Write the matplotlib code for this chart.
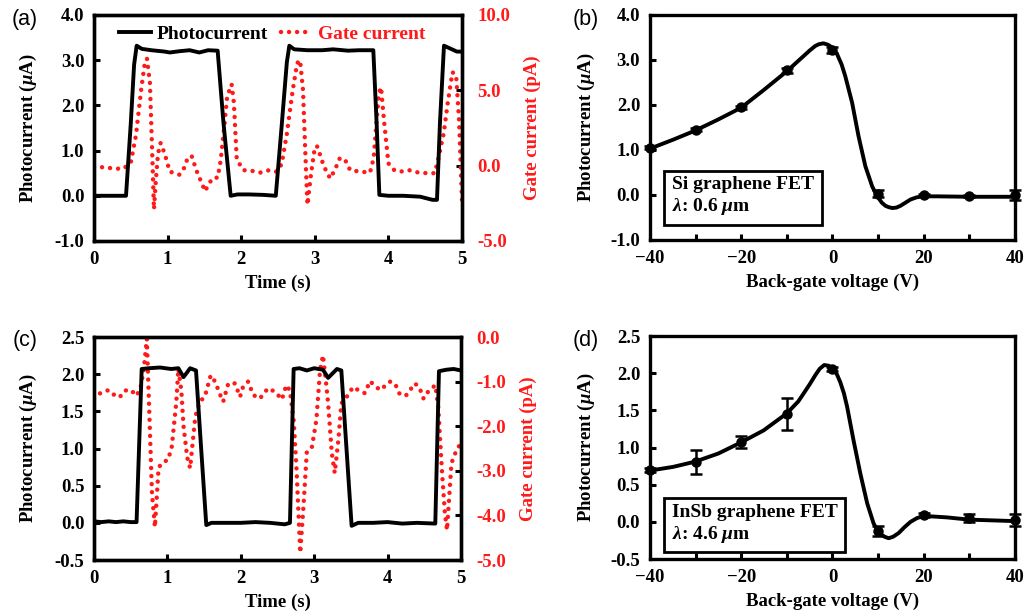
import matplotlib
matplotlib.use('Agg')
import matplotlib.pyplot as plt
import numpy as np
from matplotlib.lines import Line2D

plt.rcParams['font.family'] = ['Liberation Serif', 'DejaVu Serif']
plt.rcParams['font.weight'] = 'bold'
plt.rcParams['mathtext.fontset'] = 'custom'
plt.rcParams['mathtext.rm'] = 'Liberation Serif:bold'
plt.rcParams['mathtext.it'] = 'Liberation Serif:italic:bold'
plt.rcParams['mathtext.bf'] = 'Liberation Serif:bold'

# (a) photocurrent vs time, Si device
ta_pc = [0.0, 0.435, 0.50, 0.545, 0.58, 0.65, 0.78, 0.96, 1.03, 1.17, 1.30, 1.43, 1.55, 1.68, 1.76, 1.857, 1.95, 2.1, 2.3, 2.47,
         2.55, 2.62, 2.654, 2.72, 2.9, 3.1, 3.25, 3.45, 3.6, 3.795, 3.84, 3.877, 4.0, 4.2, 4.43, 4.6, 4.66, 4.70, 4.755, 4.85, 4.93, 5.0]
ia_pc = [0.0, 0.0, 1.6, 2.9, 3.32, 3.25, 3.22, 3.19, 3.17, 3.20, 3.22, 3.17, 3.22, 3.21, 1.6, 0.0, 0.03, 0.03, 0.02, 0.0,
         1.55, 2.95, 3.32, 3.24, 3.22, 3.22, 3.24, 3.21, 3.22, 3.22, 1.6, 0.02, 0.0, 0.0, -0.02, -0.09, -0.09, 1.6, 3.32, 3.25, 3.19, 3.19]
ta_gc = [0.0, 0.1, 0.2, 0.3, 0.40, 0.50, 0.57, 0.64, 0.69, 0.72, 0.76, 0.79, 0.815, 0.84, 0.87, 0.905, 0.96, 1.03, 1.10, 1.16, 1.22,
         1.28, 1.33, 1.39, 1.45, 1.51, 1.56, 1.62, 1.68, 1.72, 1.76, 1.81, 1.87, 1.90, 1.94, 2.03, 2.15, 2.26, 2.38, 2.48, 2.55,
         2.62, 2.70, 2.76, 2.80, 2.84, 2.87, 2.90, 2.95, 3.00, 3.03, 3.08, 3.12, 3.17, 3.21, 3.28, 3.34, 3.41, 3.48, 3.62, 3.75,
         3.80, 3.84, 3.87, 3.90, 3.94, 4.00, 4.08, 4.16, 4.28, 4.40, 4.52, 4.63, 4.68, 4.75, 4.81, 4.87, 4.92, 4.96, 5.0]
ga_gc = [-0.1, -0.1, -0.15, -0.2, -0.2, 0.2, 2.0, 5.0, 6.8, 7.1, 5.5, 1.0, -2.9, -1.0, 0.8, 1.5, 0.8, -0.4, -0.5, -0.6, -0.2,
         0.6, 0.6, -0.3, -1.0, -1.7, -1.2, -0.8, -0.8, 0.3, 2.1, 4.6, 5.4, 4.2, 0.4, -0.3, -0.35, -0.46, -0.3, -0.4, 0.1,
         2.1, 5.0, 6.8, 7.0, 5.0, 1.0, -2.6, -0.5, 1.2, 1.3, 0.6, 0.0, -0.5, -0.85, -0.2, 0.5, 0.4, -0.3, -0.4, -0.46,
         0.5, 3.0, 4.8, 5.2, 3.0, 0.15, -0.3, -0.4, -0.3, -0.45, -0.5, -0.5, 0.5, 2.1, 4.3, 6.2, 6.0, 3.0, -2.3]

# (c) photocurrent vs time, InSb device
tc_pc = [0.0, 0.1, 0.2, 0.3, 0.4, 0.5, 0.58, 0.65, 0.75, 0.9, 1.05, 1.15, 1.22, 1.31, 1.39, 1.46, 1.53, 1.6, 1.8, 2.0, 2.2, 2.4,
         2.6, 2.67, 2.72, 2.8, 2.9, 3.0, 3.12, 3.19, 3.31, 3.37, 3.44, 3.51, 3.6, 3.8, 4.0, 4.2, 4.4, 4.65, 4.70, 4.8, 4.9, 5.0]
ic_pc = [0.02, 0.01, 0.02, 0.01, 0.02, 0.01, 0.01, 2.07, 2.08, 2.09, 2.07, 2.08, 1.96, 2.08, 2.05, 1.0, -0.03, 0.0, 0.0, 0.0, 0.01, 0.0,
         -0.02, 0.0, 2.07, 2.08, 2.05, 2.08, 2.06, 1.95, 2.07, 2.05, 1.0, -0.04, 0.0, 0.0, 0.01, -0.01, 0.0, -0.01, 2.04, 2.06, 2.07, 2.05]
tc_gc = [0.0, 0.06, 0.13, 0.20, 0.29, 0.35, 0.42, 0.51, 0.57, 0.63, 0.68, 0.72, 0.76, 0.79, 0.83, 0.88, 0.92, 1.01, 1.06, 1.12,
         1.15, 1.19, 1.22, 1.27, 1.31, 1.38, 1.44, 1.51, 1.59, 1.65, 1.72, 1.76, 1.83, 1.92, 1.99, 2.03, 2.10, 2.17, 2.26, 2.37,
         2.47, 2.56, 2.62, 2.67, 2.72, 2.76, 2.81, 2.85, 2.90, 2.97, 3.03, 3.08, 3.12, 3.16, 3.19, 3.24, 3.28, 3.33, 3.37, 3.42,
         3.53, 3.61, 3.69, 3.76, 3.83, 3.90, 4.03, 4.10, 4.17, 4.26, 4.37, 4.43, 4.49, 4.55, 4.65, 4.69, 4.74, 4.78, 4.81, 4.87,
         4.94, 5.0]
gc_gc = [-1.38, -1.28, -1.23, -1.19, -1.32, -1.35, -1.2, -1.19, -1.32, -1.19, -0.7, -0.04, -2.0, -3.5, -4.26, -2.94, -2.83, -2.75,
         -2.46, -1.49, -0.71, -1.2, -2.0, -2.7, -2.94, -1.79, -1.45, -1.34, -0.86, -1.0, -1.3, -1.45, -1.04, -1.04, -1.34, -1.12,
         -1.0, -1.3, -1.38, -1.15, -1.23, -1.4, -1.08, -1.2, -1.86, -2.98, -4.84, -3.9, -2.57, -2.46, -1.86, -0.74, -0.41, -1.0,
         -1.49, -2.6, -3.05, -2.3, -1.49, -1.4, -1.12, -1.2, -1.26, -0.99, -1.1, -1.19, -1.0, -1.04, -1.3, -1.3, -1.04, -1.12,
         -1.38, -1.23, -1.08, -1.56, -2.98, -3.94, -4.33, -2.83, -2.53, -2.38]

# (b) Si graphene FET, photocurrent vs back-gate voltage
vb = [-40, -30, -20, -10, 0, 10, 20, 30, 40]
ib = [1.05, 1.45, 1.95, 2.77, 3.22, 0.03, 0.0, -0.02, 0.0]
eb = [0.03, 0.03, 0.03, 0.05, 0.07, 0.07, 0.03, 0.03, 0.12]
vb_fit = [-40, -34.9, -30.1, -25, -20, -15.1, -10, -7.5, -6.3, -5, -3.8, -3, -2, -1, 0, 1, 2, 2.8, 4.3, 5.7, 7.2, 8.7, 9.4,
          10.1, 10.8, 11.6, 12.3, 13.1, 14, 14.9, 16, 17.1, 18.5, 20, 22.9, 30.3, 40]
ib_fit = [1.03, 1.23, 1.43, 1.68, 1.94, 2.33, 2.75, 2.98, 3.09, 3.21, 3.31, 3.35, 3.37, 3.34, 3.27, 3.13, 2.9, 2.64, 2.05, 1.31,
          0.64, 0.19, 0.05, -0.07, -0.17, -0.24, -0.27, -0.29, -0.28, -0.24, -0.17, -0.1, -0.05, -0.03, -0.03, -0.04, -0.04]

# (d) InSb graphene FET
vd = [-40, -30, -20, -10, 0, 10, 20, 30, 40]
id_ = [0.70, 0.81, 1.08, 1.45, 2.06, -0.12, 0.09, 0.05, 0.02]
ed = [0.03, 0.16, 0.08, 0.21, 0.03, 0.07, 0.03, 0.05, 0.08]
vd_fit = [-40, -34.9, -30.1, -25, -20, -15.1, -10, -7.5, -6.3, -5, -3.8, -2.8, -1.8, -0.8, 0.3, 1.0, 1.7, 2.5, 3.2, 4.6, 6.1,
          7.6, 9.0, 9.8, 10.5, 11.4, 12.3, 13.3, 14.5, 15.8, 17.1, 18.5, 20, 25.1, 29.9, 40]
id_fit = [0.69, 0.74, 0.81, 0.92, 1.07, 1.23, 1.46, 1.62, 1.73, 1.85, 1.97, 2.06, 2.11, 2.10, 2.05, 1.98, 1.88, 1.73, 1.55, 1.1,
          0.65, 0.25, -0.02, -0.11, -0.16, -0.2, -0.22, -0.2, -0.15, -0.07, 0.0, 0.05, 0.08, 0.06, 0.03, 0.01]

RED = '#ff1a1a'
FS = 13.5
dots = (0, (0.01, 1.8))

fig = plt.figure(figsize=(10.26, 6.16), dpi=100)

def style(ax, ypad=7):
    for s in ax.spines.values():
        s.set_linewidth(2.4)
    ax.tick_params(direction='in', length=4.5, width=2.2, labelsize=FS)
    ax.tick_params(axis='y', pad=ypad)
    ax.tick_params(axis='x', pad=7)
    ax.tick_params(which='minor', direction='in', length=4.5, width=2.2)
    for lab in ax.get_xticklabels() + ax.get_yticklabels():
        lab.set_fontweight('bold')

def time_panel(rect, t1, i1, t2, g2, ylim, yt, glim, gt, tag, tagxy, legend=False):
    ax = fig.add_axes(rect)
    ax.plot(t1, i1, color='black', lw=2.8, solid_joinstyle='round', zorder=3)
    ax2 = ax.twinx()
    ax2.plot(t2, g2, color=RED, lw=3.2, ls=dots, dash_capstyle='round')
    ax.set_zorder(ax2.get_zorder() + 1)
    ax.patch.set_visible(False)
    ax.set_xlim(0, 5)
    ax.set_ylim(*ylim)
    ax.set_yticks(yt)
    ax.set_yticklabels(['%.1f' % v for v in yt])
    ax.set_xticks(range(6))
    ax2.set_ylim(*glim)
    ax2.set_yticks(gt)
    ax2.set_yticklabels(['%.1f' % v for v in gt])
    style(ax)
    style(ax2, ypad=11)
    ax2.tick_params(axis='y', colors='black', labelcolor=RED)
    ax.set_xlabel('Time (s)', fontsize=FS, fontweight='bold', labelpad=5)
    ax.set_ylabel(r'Photocurrent ($\mu$A)', fontsize=FS, fontweight='bold', labelpad=11)
    ax2.set_ylabel('Gate current (pA)', fontsize=FS, fontweight='bold', color=RED, labelpad=10)
    fig.text(tagxy[0], tagxy[1], tag, fontsize=15.5, family='Liberation Sans',
             fontweight='normal', ha='center', va='center')
    if legend:
        h = [Line2D([], [], color='black', lw=2.8),
             Line2D([], [], color=RED, lw=3.2, ls=dots, dash_capstyle='round')]
        leg = ax.legend(h, ['Photocurrent', 'Gate current'], ncol=2, frameon=False, loc='center',
                        bbox_to_anchor=(0.485, 0.915), handlelength=1.6, handletextpad=0.3,
                        columnspacing=0.7, prop={'weight': 'bold', 'size': 14})
        leg.get_texts()[1].set_color(RED)
    return ax

def gate_panel(rect, v, i, e, vf, f, ylim, yt, txt, box_xy, tag, tagxy):
    ax = fig.add_axes(rect)
    ax.plot(vf, f, color='black', lw=2.8, solid_joinstyle='round', solid_capstyle='round')
    ax.errorbar(v, i, yerr=e, fmt='o', color='black', ms=6.5, capsize=4.5, elinewidth=1.8, capthick=1.8, clip_on=False, zorder=4)
    ax.set_xlim(-40, 40)
    ax.set_ylim(*ylim)
    ax.set_yticks(yt)
    ax.set_yticklabels(['%.1f' % y for y in yt])
    ax.set_xticks([-40, -20, 0, 20, 40])
    ax.set_xticks([-30, -10, 10, 30], minor=True)
    style(ax)
    ax.set_xlabel('Back-gate voltage (V)', fontsize=FS, fontweight='bold', labelpad=5)
    ax.set_ylabel(r'Photocurrent ($\mu$A)', fontsize=FS, fontweight='bold', labelpad=10)
    ax.text(box_xy[0], box_xy[1], txt, transform=ax.transAxes, fontsize=14, fontweight='bold',
            ha='left', va='bottom', linespacing=1.2,
            bbox=dict(boxstyle='square,pad=0.4', facecolor='white', edgecolor='black', linewidth=2))
    fig.text(tagxy[0], tagxy[1], tag, fontsize=15.5, family='Liberation Sans',
             fontweight='normal', ha='center', va='center')
    return ax

time_panel([0.0916, 0.6088, 0.3587, 0.3669], ta_pc, ia_pc, ta_gc, ga_gc, (-1, 4), [-1, 0, 1, 2, 3, 4],
           (-5, 10), [-5, 0, 5, 10], '(a)', (0.0244, 0.969), legend=True)
time_panel([0.0916, 0.0909, 0.3577, 0.362], tc_pc, ic_pc, tc_gc, gc_gc, (-0.5, 2.5), [-0.5, 0, 0.5, 1, 1.5, 2, 2.5],
           (-5, 0), [-5, -4, -3, -2, -1, 0], '(c)', (0.0244, 0.447))
gate_panel([0.6335, 0.6104, 0.3558, 0.3653], vb, ib, eb, vb_fit, ib_fit, (-1, 4), [-1, 0, 1, 2, 3, 4],
           'Si graphene FET\n' + r'$\lambda$: 0.6 $\mu$m', (0.06, 0.1), '(b)', (0.571, 0.969))
gate_panel([0.6335, 0.0925, 0.3558, 0.362], vd, id_, ed, vd_fit, id_fit, (-0.5, 2.5), [-0.5, 0, 0.5, 1, 1.5, 2, 2.5],
           'InSb graphene FET\n' + r'$\lambda$: 4.6 $\mu$m', (0.06, 0.065), '(d)', (0.571, 0.447))

plt.savefig('out.png', dpi=100)
plt.close()
